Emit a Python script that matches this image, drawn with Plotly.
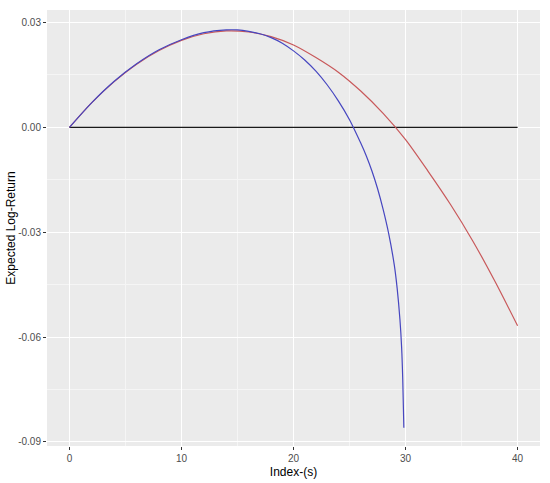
import plotly.graph_objs as go

# values
red_x = [0, 2, 4, 6, 8, 10, 12, 14, 16, 18, 20, 22, 24, 26, 28, 30, 32, 34, 36, 38, 40]
red_y = [0.0, 0.0071, 0.0131, 0.0181, 0.0220, 0.0249, 0.0268, 0.0276, 0.0273, 0.0260,
         0.0236, 0.0200, 0.0158, 0.0104, 0.0040, -0.0035, -0.0125, -0.0220, -0.0325,
         -0.0442, -0.0568]

blue_x = [0, 2, 4, 6, 8, 10, 12, 14, 15, 16, 17, 18, 19, 20, 21, 22, 23, 24, 25,
          26, 26.5, 27, 27.5, 28, 28.5, 29, 29.25, 29.5, 29.65, 29.75, 29.85]
blue_y = [0.0, 0.0071, 0.0132, 0.0182, 0.0222, 0.0251, 0.0271, 0.0279, 0.0279, 0.0275,
          0.0268, 0.0257, 0.0241, 0.0219, 0.0193, 0.0161, 0.0122, 0.0076, 0.0022,
          -0.0045, -0.0082, -0.0125, -0.0175, -0.0235, -0.0305, -0.0395, -0.0460,
          -0.0550, -0.0630, -0.0720, -0.0860]

zero_x = [0, 40]
zero_y = [0, 0]

y_ticks = [0.03, 0.0, -0.03, -0.06, -0.09]
y_labels = ["0.03", "0.00", "-0.03", "-0.06", "-0.09"]
x_ticks = [0, 10, 20, 30, 40]

fig = go.Figure()
fig.add_trace(go.Scatter(x=zero_x, y=zero_y, mode='lines',
                         line=dict(color='#1a1a1a', width=1.1)))
fig.add_trace(go.Scatter(x=red_x, y=red_y, mode='lines',
                         line=dict(color='#C8585A', width=1.2, shape='spline', smoothing=0.8)))
fig.add_trace(go.Scatter(x=blue_x, y=blue_y, mode='lines',
                         line=dict(color='#4646C0', width=1.2, shape='spline', smoothing=0.8)))

axis_common = dict(
    showline=False, zeroline=False, automargin=False,
    showgrid=True, gridcolor='white', gridwidth=1.1,
    ticks='outside', ticklen=3, tickwidth=1, tickcolor='#333333',
    tickfont=dict(family='Liberation Sans, Arial', size=10, color='#4D4D4D'),
    minor=dict(showgrid=True, gridcolor='#F5F5F5', gridwidth=0.6, ticks=''),
)

fig.update_xaxes(
    range=[-2, 42], tickvals=x_ticks, ticktext=[str(v) for v in x_ticks],
    minor_tickvals=[5, 15, 25, 35],
    title=dict(text='Index-(s)', standoff=4,
               font=dict(family='Liberation Sans, Arial', size=12, color='black')),
    **axis_common
)
fig.update_yaxes(
    range=[-0.0912, 0.0336], tickvals=y_ticks, ticktext=y_labels,
    minor_tickvals=[0.015, -0.015, -0.045, -0.075],
    title=dict(text='Expected Log-Return', standoff=0,
               font=dict(family='Liberation Sans, Arial', size=12, color='black')),
    **axis_common
)

fig.update_layout(
    width=550, height=483,
    showlegend=False,
    plot_bgcolor='#EBEBEB', paper_bgcolor='white',
    margin=dict(l=47, r=10, t=10, b=37),
)

# drop the page's default body margin so the figure sits at the top-left corner
fig.write_html("out.html", config={'displayModeBar': False},
               post_script="document.body.style.margin='0';")
